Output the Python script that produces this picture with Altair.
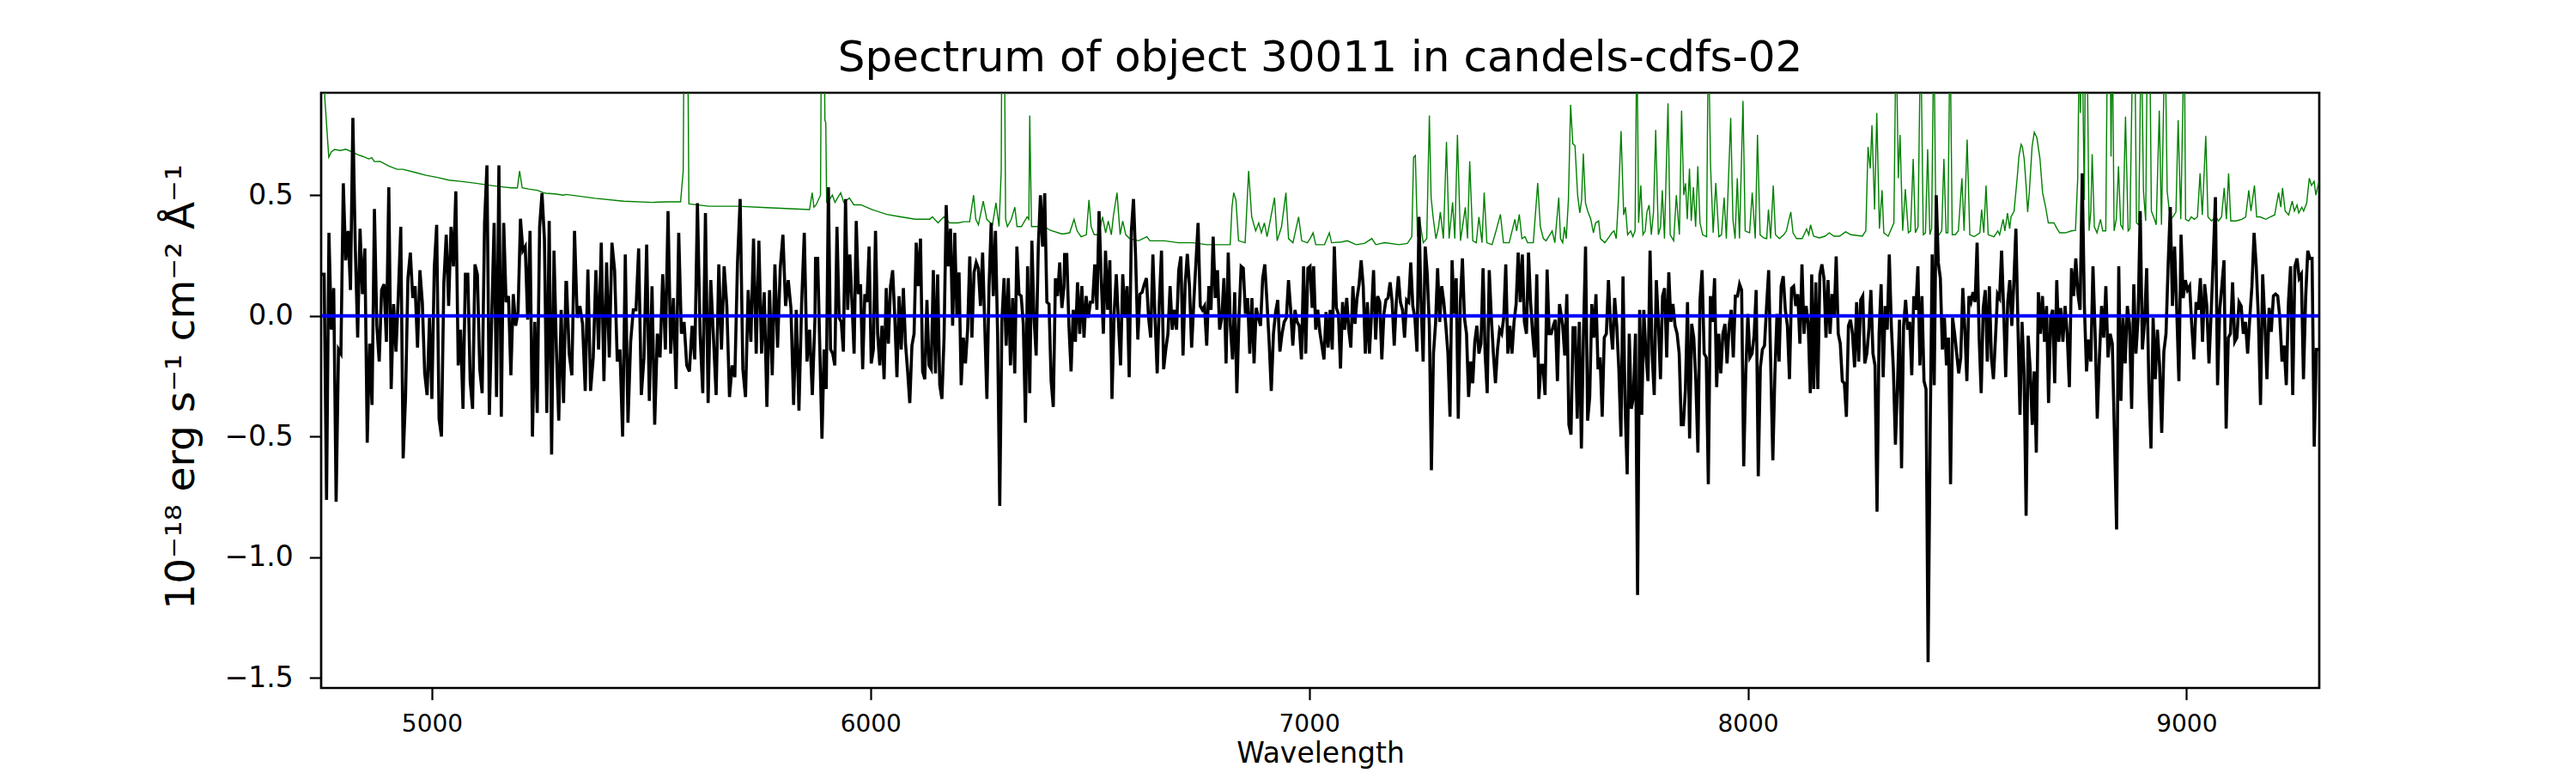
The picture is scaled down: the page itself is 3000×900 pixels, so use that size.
import altair as alt
import numpy as np
import pandas as pd

TITLE = "Spectrum of object 30011 in candels-cdfs-02"
X_TITLE = "Wavelength"
Y_TITLE = "10\u207b\u00b9\u2078 erg s\u207b\u00b9 cm\u207b\u00b2 \u00c5\u207b\u00b9"

X_TICKS = [5000, 6000, 7000, 8000, 9000]
Y_TICKS = [-1.5, -1.0, -0.5, 0.0, 0.5]
X_RANGE = [4747.6, 9302.7]
Y_RANGE = [-1.541, 0.924]

# Black flux curve, read segment by segment: (start wavelength, end wavelength, values)
seg_a = [0.172,0.172,-0.762,0.344,-0.057,0.115,-0.770,-0.139,-0.156,0.549,0.230,0.352,0.107,0.820,0.287,-0.090,0.361,0.090,0.279,-0.525,-0.115,-0.369,0.443,-0.041,-0.189,0.107,0.131,-0.107,0.533,-0.303,0.049,-0.148,0.090,0.369,-0.590,-0.336,0.156,0.262,0.074,0.123,-0.131,0.189,0.057,-0.238,-0.328,-0.008,-0.344,0.197,0.377,-0.426,-0.500,0.139,0.336,0.041,0.369,0.205,0.516,-0.205,-0.057,-0.385,0.172,0.172,-0.270,-0.385,0.213,0.172,-0.221,-0.320,0.385,0.623,-0.410,-0.008,0.385,-0.336,0.623,-0.418,0.385,0.057,0.082,-0.246,0.090,-0.041,0.016,0.402,0.270,0.287,-0.016,0.352,-0.500,-0.025,-0.402,0.369,0.508,0.320,-0.402,0.393,-0.574,0.270,-0.139,-0.434,0.025,-0.361,0.139]
seg_b = [0.139,-0.156,-0.246,0.352,-0.008,0.041,-0.033,-0.311,0.192,-0.311,-0.172,0.189,-0.139,0.303,-0.270,0.221,-0.172,0.303,0.189,-0.189,-0.139,-0.500,0.254,-0.443,-0.107,0.025,0.025,0.279,-0.328,-0.172,0.295,-0.352,0.123,-0.451,-0.074,-0.172,0.172,-0.139,0.434,-0.156,0.074,-0.303,0.344,-0.074,-0.025,-0.205,-0.230,-0.041,-0.180,0.467,-0.074,-0.320,0.426,-0.361,0.148,-0.090,-0.328,0.213,-0.139,0.205,0.041,-0.336,-0.205,-0.254,0.221,0.484,-0.221,-0.336,0.107,-0.107,0.320,-0.156,0.311,-0.156,0.098,-0.377,0.107,-0.246,0.213,-0.131,0.197,0.336,0.041,0.148,0.033,-0.369,0.025,-0.393,0.049,0.344,-0.189,-0.057,-0.328,-0.008]
seg_c = [0.238,0.238,-0.139,-0.508,-0.139,-0.303,0.533,-0.139,-0.156,-0.205,0.369,-0.008,-0.025,-0.148,0.484,0.025,0.254,0.057,-0.156,0.393,0.090,0.131,-0.221,0.090,0.057,0.287,-0.197,-0.139,0.352,-0.074,-0.205,-0.041,-0.262,0.115,-0.115,0.123,0.189,-0.008,-0.254,0.082,-0.139,0.115,-0.115,-0.230,-0.361,-0.123,-0.074,0.303,0.123,0.320,-0.230,-0.262,0.066,-0.205,-0.221,0.189,-0.238,0.172,-0.287,-0.344,-0.090,0.459,0.205,0.361,-0.041,0.344,-0.008,0.180,-0.287,-0.090,-0.197,-0.057,0.246,-0.090,0.180,0.221,0.197,0.041,0.262,-0.041,-0.344,0.123,0.385,0.082,0.352,-0.074,-0.787,-0.025,0.156,-0.123,0.156,-0.205,0.074,-0.238,0.287,0.090,0.082,-0.033,-0.443,0.205,-0.320,0.311,-0.008,-0.164,0.287,0.500,0.287,0.508,0.057,0.049,-0.270,-0.377,0.156,0.082,0.221,0.033,0.123]
seg_d = [0.254,0.254,-0.041,-0.230,0.025,-0.107,0.139,-0.074,0.123,-0.090,0.082,-0.008,0.057,0.057,0.213,0.025,0.434,0.156,-0.074,0.270,0.025,0.230,-0.344,0.008,0.172,-0.025,-0.205,0.172,-0.008,0.123,-0.254,0.352,0.484,0.238,-0.098,0.090,0.098,0.131,0.156,-0.008,-0.090,0.254,-0.008,-0.238,0.057,0.270,-0.221,-0.139,-0.074,0.123,-0.057,0.025,-0.057,0.189,0.246,-0.164,0.131,0.257,0.123,-0.131,0.057,0.221,0.385,0.041,0.025,0.041,-0.123,0.123,0.025,0.328,0.074,0.189,-0.057,-0.008,0.156,-0.197,0.262,-0.041,-0.180,0.098,-0.320,-0.008,0.205,0.197,0.008,0.074,-0.156,0.074,-0.197,0.033,-0.008,-0.041,0.156,0.213,0.057,-0.107,-0.311,-0.074,0.016,0.066,-0.148,-0.074,-0.025,-0.008,0.148,0.025,-0.123,0.025,-0.025,-0.041,-0.180,0.205,-0.156,0.197,0.205,0.033]
seg_e = [0.205,-0.057,0.025,-0.066,-0.123,-0.180,0.016,-0.131,0.025,-0.139,0.287,0.033,0.008,-0.218,0.057,-0.057,0.074,-0.057,-0.131,0.123,-0.033,0.074,0.131,0.230,0.123,-0.156,0.057,-0.156,0.008,0.189,-0.098,0.082,0.057,-0.180,0.008,0.066,0.074,0.139,0.057,-0.123,0.057,0.164,0.057,0.025,-0.090,0.066,0.057,0.221,0.041,-0.008,-0.148,0.410,0.057,-0.189,0.287,0.172,-0.041,-0.639,-0.156,-0.033,0.197,-0.025,0.123,0.057,-0.041,-0.156,-0.418,0.230,0.008,0.156,-0.426,0.057,0.238,-0.008,-0.074,-0.336,-0.189,-0.279,-0.107,-0.041,-0.156,-0.115,0.197,-0.156,-0.320,0.189,-0.008,-0.156,-0.279,-0.139,-0.057,-0.074,-0.008,0.213,-0.156,-0.041,-0.156,-0.025,0.049,0.262,0.057,0.254,-0.025,-0.074,0.262,0.057,-0.074,-0.172,0.172,-0.344,-0.205,-0.205,-0.328,0.192,-0.074,-0.074,-0.041,-0.016,-0.270,0.049,-0.008]
seg_f = [-0.041,-0.164,0.090,-0.451,-0.492,-0.049,-0.049,-0.426,-0.025,-0.549,-0.074,0.287,-0.434,-0.336,0.049,-0.090,0.090,-0.221,-0.172,-0.418,-0.090,-0.074,0.148,-0.041,-0.139,0.074,-0.041,-0.221,-0.500,0.164,-0.369,-0.656,-0.074,-0.385,-0.336,-0.074,-1.156,0.025,-0.410,0.025,-0.156,-0.270,0.270,-0.156,-0.328,0.148,-0.025,-0.262,0.082,0.115,-0.172,0.180,-0.025,0.049,-0.041,-0.074,-0.156,-0.451,-0.451,-0.303,0.057,-0.508,-0.033,-0.090,-0.270,-0.566,0.066,0.189,-0.156,-0.172,-0.697,0.082,-0.025,0.156,-0.295,-0.074,-0.238,-0.074,-0.033,-0.197,-0.041,0.025,-0.172,0.082,0.082,0.131,0.107,-0.623,-0.238,0.008,-0.172,-0.156,-0.082,0.107,-0.664,-0.213,-0.139,-0.123,0.041,0.189,-0.205,-0.598,-0.238,0.008,-0.189,0.123,0.164,0.025,-0.041,-0.262,0.115,0.123,0.041,0.090,-0.115,0.213,-0.074,0.041,-0.033,-0.320]
seg_g = [0.172,-0.303,0.139,-0.303,0.172,0.213,0.156,-0.090,0.148,-0.074,0.090,-0.008,0.246,-0.074,-0.115,-0.270,-0.279,-0.418,-0.041,-0.016,-0.074,-0.213,0.057,-0.189,0.066,0.082,-0.197,-0.156,-0.057,0.107,-0.156,-0.205,-0.811,-0.074,0.131,-0.254,0.041,-0.057,0.254,-0.041,-0.221,-0.533,-0.287,-0.016,-0.631,-0.041,0.066,-0.057,-0.025,-0.246,0.082,0.025,0.205,-0.205,0.082,-0.270,-0.303,-1.434,-0.500,0.254,-0.287,0.500,0.221,0.156,-0.139,-0.008,-0.205,-0.090,-0.697,-0.008,-0.074,-0.156,-0.238,-0.172,0.115,-0.057,-0.270,0.082,0.057,0.098,0.057,0.303,-0.090,-0.320,0.033,0.107,-0.189,0.123,-0.172,-0.262,-0.090,0.090,0.074,0.270,0.025,-0.254,0.057,0.148,-0.041,0.139,0.361,-0.041,-0.410,-0.025,-0.238,-0.828,-0.082,-0.221,-0.451,-0.230,-0.566,0.098,-0.074,0.082,-0.107,0.041,-0.361,-0.008,0.025,-0.279,0.148,-0.107]
seg_h = [0.033,-0.107,0.041,-0.074,-0.295,0.197,0.082,0.238,0.090,0.025,0.590,0.041,-0.230,-0.098,-0.189,0.205,-0.074,-0.426,-0.172,0.041,-0.090,0.123,-0.172,-0.074,-0.115,-0.500,-0.885,0.205,-0.352,-0.008,-0.197,0.041,-0.033,-0.385,0.131,-0.156,-0.008,0.434,-0.139,-0.025,0.197,-0.279,-0.549,-0.008,-0.262,-0.057,-0.205,-0.484,-0.148,-0.074,0.213,0.451,0.041,0.287,0.025,-0.270,0.336,0.074,0.148,0.107,0.123,-0.041,-0.180,0.057,0.025,0.156,-0.107,0.131,0.041,-0.197,0.008,0.238,0.492,-0.287,0.025,0.123,0.230,-0.467,-0.090,-0.074,0.139,-0.107,-0.090,0.057,0.041,-0.074,-0.025,-0.156,-0.008,0.123,0.344,0.205,-0.008,-0.369,0.172,-0.025,-0.262,0.033,-0.066,0.082,0.090,0.082,-0.008,-0.189,-0.123,-0.287,0.057,0.205,-0.328,0.205,0.238,0.156,0.172,-0.262,0.074,0.270,0.238,0.238,-0.541,-0.139,-0.139]

flux_segments = [
    (4749.0, 5305.7, seg_a),
    (5307.0, 5873.4, seg_b),
    (5874.7, 6441.1, seg_c),
    (6442.5, 7006.9, seg_d),
    (7010.2, 7575.4, seg_e),
    (7577.9, 8142.4, seg_f),
    (8145.6, 8708.9, seg_g),
    (8713.4, 9301.0, seg_h),
]

# Green noise curve (wavelength, value); peaks above the frame are clipped
noise_wl = [4748,4754,4756,4765,4771,4778,4791,4804,4817,4830,4843,4856,4863,4869,4882,4902,4921,4934,4960,4987,5013,5039,5065,5097,5130,5156,5182,5195,5200,5206,5221,5241,5254,5260,5280,5300,
            5306,5372,5437,5502,5535,5567,5573,5576,5582,5586,5632,5698,5763,5828,5861,5867,5871,
            5876,5886,5889,5893,5896,5898,5900,5903,5913,5919,5932,5939,5952,5962,5978,6004,6037,6069,6102,6135,6141,6154,6167,6180,6200,6213,6226,6235,6240,6246,6257,6265,6278,6286,6293,6298,6300,6304,6308,6312,6321,6329,6334,6344,6357,6361,6363,6367,6383,6396,6409,6435,
            6441,6454,6464,6471,6480,6492,6498,6503,6510,6520,6529,6536,6542,6549,6554,6562,6569,6575,6582,6591,6611,6630,6637,6670,6702,6735,6767,6800,6820,6824,6828,6833,6839,6854,6862,6869,6878,6885,6891,6898,6904,6911,6921,6927,6937,6947,6953,6963,6976,6983,6996,7002,7009,
            7015,7035,7046,7051,7074,7087,7107,7126,7143,7152,7172,7205,7224,7234,7238,7242,7247,7251,7260,7268,7274,7278,7283,7289,7295,7299,7306,7313,7319,7327,7332,7338,7345,7356,7361,7366,7373,7381,7387,7394,7399,7405,7417,7426,7436,7443,7456,7469,7473,7479,7485,7492,7498,7511,7521,7527,7534,7540,7554,7560,7569,7573,
            7578,7582,7586,7591,7596,7601,7606,7612,7617,7621,7625,7630,7635,7642,7648,7653,7660,7664,7674,7684,7690,7695,7700,7705,7711,7717,7721,7726,7733,7738,7743,7747,7751,7756,7761,7766,7770,7775,7780,7785,7790,7796,7801,7805,7810,7818,7823,7831,7837,7844,7849,7854,7858,7862,7867,7871,7876,7881,7886,7891,7897,7906,7910,7915,7921,7927,7934,7940,7946,7951,7961,7966,7971,7976,7981,7989,7994,8004,8010,8017,8022,8028,8036,8043,8047,8052,8058,8063,8072,8082,8088,8092,8098,8103,8111,8124,8134,8139,8143,
            8150,8163,8176,8186,8196,8209,8223,8235,8261,8269,8274,8279,8283,8289,8294,8300,8306,8310,8320,8333,8338,8343,8347,8353,8359,8366,8371,8377,8382,8388,8394,8400,8405,8410,8415,8419,8424,8429,8436,8442,8447,8452,8456,8461,8466,8473,8480,8488,8493,8500,8506,8516,8529,8533,8538,8543,8548,8561,8570,8574,8582,8586,8592,8597,8600,8607,8614,8618,8623,8626,8630,8634,8638,8642,8648,8653,8659,8666,8672,8679,8685,8692,8698,8705,8711,
            8724,8738,8747,8752,8756,8758,8762,8767,8770,8773,8778,8782,8785,8790,8796,8804,8809,8816,8820,8826,8828,8831,8835,8840,8845,8850,8855,8861,8867,8871,8878,8882,8886,8891,8897,8902,8907,8911,8916,8920,8927,8931,8938,8943,8951,8956,8963,8969,8976,8981,8987,8995,8998,9005,9011,9018,9025,9031,9036,9044,9049,9057,9067,9073,9080,9086,9091,9096,9101,9113,9126,9135,9142,9147,9155,9160,9168,9181,9191,9201,9210,9215,9219,9225,9233,9241,9246,9252,9256,9263,9267,9274,9280,9285,9291,9295,9301]
noise_val = [1.5,1.0,0.9,0.657,0.68,0.689,0.685,0.69,0.68,0.668,0.66,0.65,0.655,0.639,0.64,0.62,0.607,0.607,0.595,0.582,0.573,0.562,0.557,0.55,0.541,0.535,0.53,0.53,0.60,0.53,0.525,0.52,0.51,0.508,0.505,0.50,
             0.503,0.487,0.475,0.47,0.472,0.472,0.6,1.5,1.5,0.464,0.454,0.454,0.448,0.443,0.44,0.51,0.45,
             0.46,0.5,1.5,1.5,0.81,0.8,0.47,0.47,0.50,0.47,0.51,0.47,0.488,0.46,0.46,0.44,0.42,0.41,0.40,0.40,0.41,0.385,0.41,0.385,0.385,0.39,0.39,0.50,0.40,0.377,0.475,0.40,0.377,0.468,0.37,0.6,1.5,1.5,0.4,0.37,0.40,0.45,0.37,0.37,0.41,0.40,0.83,0.37,0.37,0.37,0.355,0.34,
             0.34,0.344,0.40,0.352,0.328,0.336,0.48,0.369,0.336,0.336,0.41,0.344,0.393,0.336,0.418,0.51,0.336,0.393,0.336,0.320,0.311,0.328,0.311,0.311,0.303,0.303,0.295,0.295,0.295,0.45,0.51,0.48,0.311,0.303,0.60,0.41,0.352,0.385,0.344,0.385,0.328,0.393,0.49,0.311,0.369,0.51,0.320,0.303,0.41,0.311,0.303,0.32,0.344,
             0.295,0.295,0.344,0.303,0.306,0.311,0.295,0.30,0.32,0.295,0.303,0.295,0.30,0.328,0.656,0.664,0.328,0.41,0.303,0.32,0.83,0.49,0.402,0.32,0.369,0.43,0.32,0.72,0.32,0.47,0.32,0.75,0.311,0.45,0.32,0.64,0.311,0.303,0.41,0.303,0.51,0.303,0.295,0.352,0.42,0.303,0.303,0.40,0.352,0.42,0.32,0.328,0.303,0.303,0.55,0.369,0.32,0.311,0.352,0.303,0.49,0.32,
             0.303,0.369,0.32,0.48,0.874,0.713,0.705,0.50,0.426,0.48,0.672,0.467,0.434,0.40,0.344,0.385,0.393,0.32,0.303,0.328,0.344,0.352,0.32,0.48,0.766,0.418,0.45,0.336,0.352,0.328,0.352,1.2,0.385,0.54,0.336,0.352,0.43,0.459,0.336,0.43,0.77,0.336,0.369,0.52,0.32,0.88,0.336,0.311,0.50,0.336,0.85,0.50,0.549,0.40,0.61,0.393,0.533,0.369,0.62,0.385,0.336,0.328,1.2,0.623,0.344,0.55,0.328,0.336,0.49,0.32,0.82,0.40,0.32,0.57,0.32,0.89,0.352,0.344,0.51,0.32,0.75,0.336,0.323,0.32,0.44,0.32,0.54,0.336,0.32,0.336,0.352,0.385,0.43,0.344,0.32,0.32,0.36,0.336,0.377,
             0.33,0.323,0.33,0.344,0.33,0.33,0.348,0.336,0.33,0.352,0.70,0.61,0.79,0.44,0.84,0.361,0.52,0.344,0.33,0.385,1.2,0.57,0.75,0.352,0.525,0.344,0.352,0.65,0.344,0.369,1.2,0.336,0.344,0.69,0.336,0.361,1.2,0.336,0.336,0.352,0.65,0.344,0.344,1.2,0.336,0.336,0.352,0.57,0.352,0.73,0.336,0.328,0.344,0.44,0.344,0.54,0.336,0.328,0.352,0.336,0.40,0.352,0.426,0.361,0.41,0.434,0.57,0.66,0.71,0.70,0.65,0.55,0.43,0.52,0.70,0.76,0.738,0.65,0.51,0.45,0.385,0.385,0.385,0.361,0.344,
             0.344,0.352,0.354,0.57,1.2,0.84,1.2,0.48,1.2,1.2,0.352,0.434,0.67,0.369,0.344,0.40,0.352,0.352,1.2,1.2,0.66,1.2,0.352,0.40,0.62,0.377,0.361,0.825,0.352,0.361,1.2,1.2,0.385,0.377,1.2,0.516,0.393,1.2,1.2,0.434,0.40,0.377,0.85,0.377,1.2,0.516,0.40,0.41,0.43,0.81,0.40,1.2,0.40,0.393,0.41,0.40,0.41,0.59,0.418,0.745,0.41,0.393,0.41,0.393,0.41,0.53,0.40,0.59,0.393,0.393,0.40,0.41,0.52,0.434,0.54,0.41,0.41,0.40,0.41,0.418,0.51,0.45,0.53,0.434,0.418,0.475,0.434,0.459,0.426,0.45,0.434,0.467,0.57,0.54,0.557,0.50,0.55]

# Blue model line (zero level across the data range)
model_wl = [4749.0, 9301.0]
model_val = [0.0, 0.0]

rows = []
for start, end, vals in flux_segments:
    for w, v in zip(np.linspace(start, end, len(vals)), vals):
        rows.append((float(w), v))
flux_df = pd.DataFrame(rows, columns=["wl", "flux"])
noise_df = pd.DataFrame({"wl": noise_wl, "flux": noise_val})
model_df = pd.DataFrame({"wl": model_wl, "flux": model_val})
title_df = pd.DataFrame({"label": [TITLE]})

FONT = "DejaVu Sans"
PLOT_W = 2327
PLOT_H = 693

x_enc = alt.X(
    "wl:Q",
    scale=alt.Scale(domain=X_RANGE, nice=False, zero=False),
    axis=alt.Axis(
        title=X_TITLE, values=X_TICKS, format="d",
        labelFontSize=28, titleFontSize=33, titleFontWeight="normal",
        titleY=86, titleBaseline="alphabetic",
        tickSize=13.7, tickWidth=2.2, tickColor="black",
        labelPadding=15, labelColor="black", titleColor="black",
        labelFont=FONT, titleFont=FONT, domain=False, grid=False,
    ),
)
y_enc = alt.Y(
    "flux:Q",
    scale=alt.Scale(domain=Y_RANGE, nice=False, zero=False),
    axis=alt.Axis(
        title=Y_TITLE, values=Y_TICKS, format=".1f",
        labelFontSize=33, titleFontSize=47, titleFontWeight="normal",
        titleX=-149, titleY=342, titleAngle=270, titleAlign="center",
        titleBaseline="alphabetic",
        tickSize=13.7, tickWidth=2.2, tickColor="black",
        labelPadding=19, labelColor="black", titleColor="black",
        labelFont=FONT, titleFont=FONT, domain=False, grid=False,
    ),
)

noise = alt.Chart(noise_df).mark_line(color="#008000", strokeWidth=1.4, clip=True).encode(x=x_enc, y=y_enc)
flux = alt.Chart(flux_df).mark_line(color="black", strokeWidth=3.6, clip=True).encode(x=x_enc, y=y_enc)
model = alt.Chart(model_df).mark_line(color="#0000ff", strokeWidth=4.0, clip=True).encode(x=x_enc, y=y_enc)

# Chart title drawn as a text element centred above the plot frame
title = alt.Chart(title_df).mark_text(
    font=FONT, fontSize=50, align="center", baseline="alphabetic", color="black"
).encode(text="label:N", x=alt.value(PLOT_W / 2), y=alt.value(-25))

chart = alt.layer(noise, flux, model, title).properties(
    width=PLOT_W,
    height=PLOT_H,
    padding={"left": 366, "top": 100, "right": 280, "bottom": 99},
    autosize=alt.AutoSizeParams(type="none"),
    background="white",
).configure_view(stroke="black", strokeWidth=2.7)

chart.save("out.html", embed_options={"renderer": "svg", "actions": False})
